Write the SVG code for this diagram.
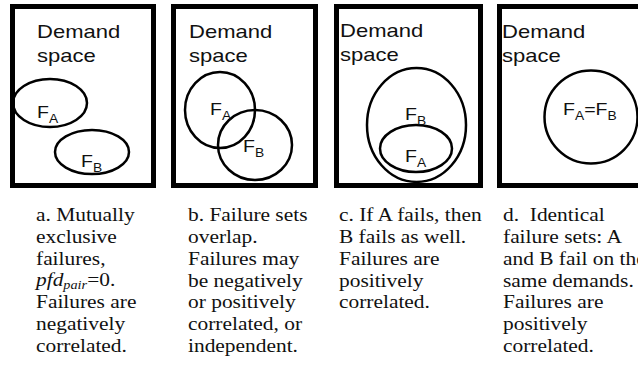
<svg xmlns="http://www.w3.org/2000/svg" width="638" height="385" viewBox="0 0 638 385">
<style>
.box{fill:none;stroke:#000;stroke-width:5}
.set{fill:none;stroke:#000;stroke-width:2.5}
.ds{font-family:"Liberation Sans",Arial,sans-serif;font-size:18.5px;fill:#111}
.f{font-family:"Liberation Sans",Arial,sans-serif;font-size:17px;fill:#111}
.sub{font-size:12px}
.cap{font-family:"Liberation Serif","Times New Roman",serif;font-size:18px;fill:#111}
</style>
<rect width="638" height="385" fill="#fff"/>
<g id="panel-a">
<rect class="box" x="12.5" y="6.5" width="141" height="179"/>
<g transform="translate(37,0) scale(1.19,1)">
<text class="ds" x="0" y="38">Demand</text>
<text class="ds" x="0" y="62">space</text>
</g>
<ellipse class="set" cx="50" cy="103" rx="37" ry="24"/>
<ellipse class="set" cx="92" cy="152" rx="37" ry="22"/>
<g transform="translate(37,0) scale(1.15,1)"><text class="f" x="0" y="118">F<tspan class="sub" dy="5">A</tspan></text></g>
<g transform="translate(81,0) scale(1.15,1)"><text class="f" x="0" y="167">F<tspan class="sub" dy="5">B</tspan></text></g>
</g>
<g id="panel-b">
<rect class="box" x="173.5" y="6.5" width="142" height="179"/>
<g transform="translate(189,0) scale(1.19,1)">
<text class="ds" x="0" y="38">Demand</text>
<text class="ds" x="0" y="62">space</text>
</g>
<ellipse class="set" cx="220" cy="110" rx="35" ry="38"/>
<ellipse class="set" cx="255" cy="145" rx="37" ry="35"/>
<g transform="translate(210,0) scale(1.15,1)"><text class="f" x="0" y="115">F<tspan class="sub" dy="5">A</tspan></text></g>
<g transform="translate(243,0) scale(1.15,1)"><text class="f" x="0" y="152">F<tspan class="sub" dy="5">B</tspan></text></g>
</g>
<g id="panel-c">
<rect class="box" x="336.5" y="6.5" width="144" height="179"/>
<g transform="translate(340,0) scale(1.19,1)">
<text class="ds" x="0" y="37">Demand</text>
<text class="ds" x="0" y="61">space</text>
</g>
<ellipse class="set" cx="416.5" cy="125" rx="49.5" ry="57"/>
<ellipse class="set" cx="416" cy="148.5" rx="36" ry="23.5"/>
<g transform="translate(405,0) scale(1.15,1)"><text class="f" x="0" y="120">F<tspan class="sub" dy="5">B</tspan></text></g>
<g transform="translate(405,0) scale(1.15,1)"><text class="f" x="0" y="162">F<tspan class="sub" dy="5">A</tspan></text></g>
</g>
<g id="panel-d">
<rect class="box" x="499.5" y="6.5" width="200" height="179"/>
<g transform="translate(502,0) scale(1.19,1)">
<text class="ds" x="0" y="38">Demand</text>
<text class="ds" x="0" y="62">space</text>
</g>
<circle class="set" cx="591" cy="117" r="46.5"/>
<g transform="translate(563,0) scale(1.15,1)"><text class="f" x="0" y="115">F<tspan class="sub" dy="5">A</tspan><tspan dy="-5">=F</tspan><tspan class="sub" dy="5">B</tspan></text></g>
</g>
<g id="captions">
<g transform="translate(36,0) scale(1.19,1)">
<text class="cap" x="0" y="221">a. Mutually</text>
<text class="cap" x="0" y="243">exclusive</text>
<text class="cap" x="0" y="265">failures,</text>
<text class="cap" x="0" y="286"><tspan font-style="italic">pfd</tspan><tspan font-style="italic" font-size="12" dy="3">pair</tspan><tspan dy="-3">=0.</tspan></text>
<text class="cap" x="0" y="308">Failures are</text>
<text class="cap" x="0" y="330">negatively</text>
<text class="cap" x="0" y="352">correlated.</text>
</g>
<g transform="translate(188,0) scale(1.19,1)">
<text class="cap" x="0" y="221">b. Failure sets</text>
<text class="cap" x="0" y="243">overlap.</text>
<text class="cap" x="0" y="265">Failures may</text>
<text class="cap" x="0" y="287">be negatively</text>
<text class="cap" x="0" y="308">or positively</text>
<text class="cap" x="0" y="330">correlated, or</text>
<text class="cap" x="0" y="352">independent.</text>
</g>
<g transform="translate(339,0) scale(1.19,1)">
<text class="cap" x="0" y="221">c. If A fails, then</text>
<text class="cap" x="0" y="243">B fails as well.</text>
<text class="cap" x="0" y="265">Failures are</text>
<text class="cap" x="0" y="287">positively</text>
<text class="cap" x="0" y="308">correlated.</text>
</g>
<g transform="translate(503,0) scale(1.19,1)">
<text class="cap" x="0" y="221" xml:space="preserve">d.  Identical</text>
<text class="cap" x="0" y="243">failure sets: A</text>
<text class="cap" x="0" y="265">and B fail on the</text>
<text class="cap" x="0" y="287">same demands.</text>
<text class="cap" x="0" y="308">Failures are</text>
<text class="cap" x="0" y="330">positively</text>
<text class="cap" x="0" y="352">correlated.</text>
</g>
</g>
</svg>
